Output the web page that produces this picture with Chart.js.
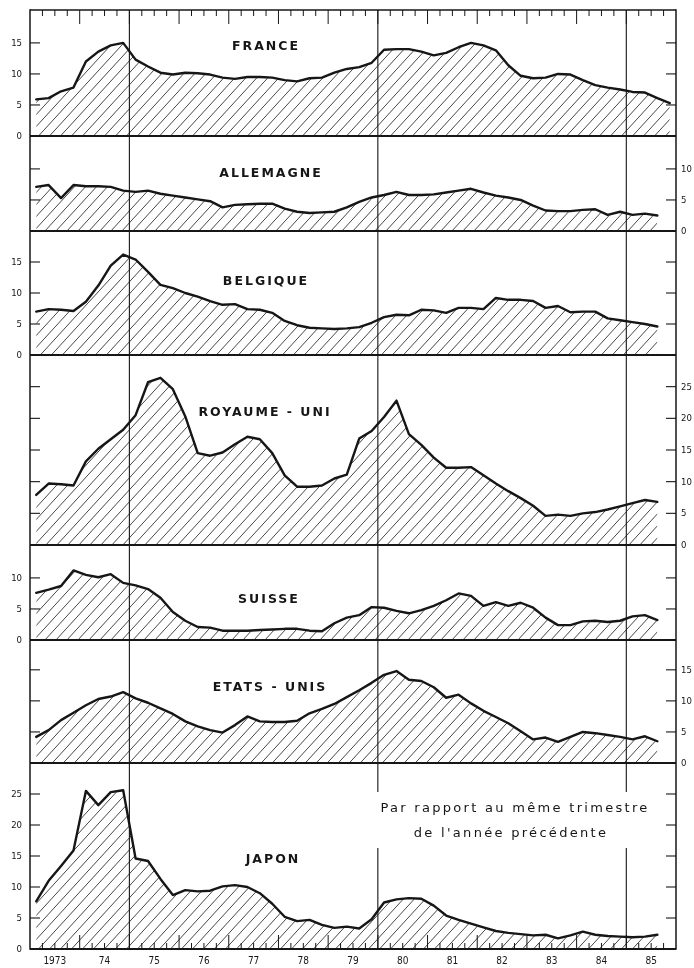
<!DOCTYPE html>
<html>
<head>
<meta charset="utf-8">
<script src="https://cdn.jsdelivr.net/npm/chart.js@4"></script>
<style>
  html, body { margin: 0; padding: 0; background: #fff; }
  #wrap { position: relative; width: 694px; height: 968px; overflow: hidden; background: #fff; }
  #wrap canvas { position: absolute; left: 0; }
</style>
</head>
<body>
<div id="wrap"></div>
<script>
// quarters 1973 T1 .. 1985 T4 (category axis)
const quarters = [];
for (let y = 1973; y <= 1985; y++) {
  for (let q = 1; q <= 4; q++) quarters.push(y + ' T' + q);
}
const yearLabels = ['1973', '74', '75', '76', '77', '78', '79', '80', '81', '82', '83', '84', '85'];
const markYears = [1975, 1980, 1985];

// hausse des prix en % sur un an, trimestriel
const france = [5.9, 6.1, 7.2, 7.8, 12.0, 13.6, 14.6, 15.0, 12.3, 11.2, 10.2, 9.9, 10.2, 10.1, 9.9, 9.4, 9.2, 9.5, 9.5, 9.4,
  9.0, 8.8, 9.3, 9.4, 10.2, 10.8, 11.1, 11.8, 13.9, 14.0, 14.0, 13.6, 13.0, 13.4, 14.3, 15.0, 14.6, 13.8, 11.4, 9.7,
  9.3, 9.4, 10.0, 9.9, 9.0, 8.2, 7.8, 7.5, 7.1, 7.0, 6.1, 5.3];
const allemagne = [7.1, 7.4, 5.3, 7.4, 7.2, 7.2, 7.1, 6.5, 6.3, 6.5, 6.0, 5.7, 5.4, 5.1, 4.8, 3.8, 4.2, 4.3, 4.4, 4.4,
  3.6, 3.1, 2.9, 3.0, 3.1, 3.8, 4.7, 5.4, 5.8, 6.3, 5.8, 5.8, 5.9, 6.2, 6.5, 6.8, 6.2, 5.7, 5.4, 5.0,
  4.1, 3.3, 3.2, 3.2, 3.4, 3.5, 2.6, 3.1, 2.6, 2.8, 2.5];
const belgique = [7.0, 7.4, 7.3, 7.1, 8.6, 11.2, 14.4, 16.2, 15.4, 13.4, 11.3, 10.8, 10.0, 9.4, 8.7, 8.1, 8.2, 7.4, 7.3, 6.8,
  5.5, 4.8, 4.4, 4.3, 4.2, 4.3, 4.5, 5.2, 6.1, 6.5, 6.4, 7.3, 7.2, 6.8, 7.6, 7.6, 7.4, 9.2, 8.9, 8.9,
  8.7, 7.6, 7.9, 6.9, 7.0, 7.0, 5.9, 5.6, 5.3, 5.0, 4.6];
const royaumeUni = [7.9, 9.7, 9.6, 9.4, 13.2, 15.2, 16.7, 18.2, 20.5, 25.7, 26.4, 24.6, 20.3, 14.5, 14.1, 14.6, 15.9, 17.1, 16.7, 14.5,
  11.0, 9.2, 9.2, 9.4, 10.5, 11.1, 16.8, 18.0, 20.2, 22.8, 17.5, 15.8, 13.8, 12.2, 12.2, 12.3, 11.0, 9.7, 8.5, 7.4,
  6.2, 4.6, 4.8, 4.6, 5.0, 5.2, 5.6, 6.1, 6.6, 7.1, 6.8];
const suisse = [7.6, 8.1, 8.7, 11.2, 10.5, 10.1, 10.6, 9.2, 8.8, 8.2, 6.8, 4.5, 3.1, 2.1, 2.0, 1.5, 1.5, 1.5, 1.6, 1.7,
  1.8, 1.8, 1.5, 1.4, 2.7, 3.6, 4.0, 5.3, 5.2, 4.7, 4.3, 4.8, 5.5, 6.4, 7.5, 7.1, 5.5, 6.1, 5.5, 6.0,
  5.2, 3.6, 2.4, 2.4, 3.0, 3.1, 2.9, 3.1, 3.8, 4.0, 3.2];
const etatsUnis = [4.2, 5.3, 6.9, 8.1, 9.3, 10.3, 10.7, 11.4, 10.4, 9.7, 8.8, 7.9, 6.7, 5.9, 5.3, 4.9, 6.1, 7.5, 6.7, 6.6,
  6.6, 6.8, 8.0, 8.7, 9.5, 10.6, 11.7, 12.9, 14.2, 14.8, 13.4, 13.2, 12.2, 10.5, 11.0, 9.6, 8.4, 7.4, 6.4, 5.1,
  3.8, 4.1, 3.4, 4.2, 5.0, 4.8, 4.5, 4.2, 3.8, 4.3, 3.5];
const japon = [7.7, 11.0, 13.4, 15.9, 25.5, 23.2, 25.3, 25.6, 14.6, 14.2, 11.3, 8.7, 9.5, 9.3, 9.4, 10.1, 10.3, 10.0, 9.0, 7.3,
  5.2, 4.5, 4.7, 3.9, 3.4, 3.6, 3.3, 4.8, 7.5, 8.0, 8.2, 8.1, 7.0, 5.4, 4.7, 4.1, 3.5, 2.9, 2.6, 2.4,
  2.2, 2.3, 1.7, 2.2, 2.8, 2.3, 2.1, 2.0, 1.9, 2.0, 2.3];

const note = ['Par rapport au même trimestre', "de l'année précédente"];

// layout of the stacked panels (page pixels)
const panels = [
  { name: 'FRANCE', data: france, top: 10, bottom: 136, max: 20.3, side: 'left', ticks: [5, 10, 15], tx: 266, ty: 47 },
  { name: 'ALLEMAGNE', data: allemagne, top: 136, bottom: 231, max: 15.3, side: 'right', ticks: [5, 10], tx: 271, ty: 174 },
  { name: 'BELGIQUE', data: belgique, top: 231, bottom: 355, max: 20, side: 'left', ticks: [5, 10, 15], tx: 266, ty: 282 },
  { name: 'ROYAUME - UNI', data: royaumeUni, top: 355, bottom: 545, max: 30, side: 'right', ticks: [5, 10, 15, 20, 25], tx: 265, ty: 413 },
  { name: 'SUISSE', data: suisse, top: 545, bottom: 640, max: 15.3, side: 'left', ticks: [5, 10], tx: 269, ty: 600 },
  { name: 'ETATS - UNIS', data: etatsUnis, top: 640, bottom: 763, max: 19.8, side: 'right', ticks: [5, 10, 15], tx: 270, ty: 688 },
  { name: 'JAPON', data: japon, top: 763, bottom: 949, max: 30, side: 'left', ticks: [5, 10, 15, 20, 25], tx: 273, ty: 860 }
];

const INK = '#161616';
const PAD_TOP = 12;
const numFont = '9.5px "DejaVu Sans Condensed", "DejaVu Sans", sans-serif';

function makeHatch() {
  const c = document.createElement('canvas');
  c.width = 11;
  c.height = 12;
  const g = c.getContext('2d');
  g.strokeStyle = '#333';
  g.lineWidth = 0.9;
  g.beginPath();
  g.moveTo(-1, 12 + 12 / 11);
  g.lineTo(12, -12 / 11);
  g.stroke();
  return c;
}
const hatchTile = makeHatch();

function line(ctx, x1, y1, x2, y2) {
  ctx.beginPath();
  ctx.moveTo(x1, y1);
  ctx.lineTo(x2, y2);
  ctx.stroke();
}

function decor(p, idx) {
  const first = idx === 0;
  const last = idx === panels.length - 1;
  return {
    id: 'decor',
    afterDatasetsDraw(chart) {
      const ctx = chart.ctx;
      const xs = chart.scales.x;
      const ys = chart.scales.y;
      const { left, right, top, bottom } = chart.chartArea;
      const off = p.top - PAD_TOP;
      ctx.save();
      ctx.strokeStyle = INK;
      ctx.fillStyle = INK;

      // year separators
      ctx.lineWidth = 1.1;
      markYears.forEach(y => {
        const x = xs.getPixelForValue((y - 1973) * 4 - 0.5);
        line(ctx, x, top, x, bottom);
      });

      // frame
      ctx.lineWidth = 1.5;
      line(ctx, left, top - (first ? 0.7 : 0), left, bottom + (last ? 0.7 : 0));
      line(ctx, right, top - (first ? 0.7 : 0), right, bottom + (last ? 0.7 : 0));
      if (first) line(ctx, left, top, right, top);
      ctx.lineWidth = 2;
      line(ctx, left, bottom, right, bottom);

      // quarter ticks on top of first / bottom of last panel
      ctx.lineWidth = 1;
      for (let k = 1; k < quarters.length; k++) {
        const x = xs.getPixelForValue(k - 0.5);
        const len = k % 4 === 0 ? 14 : 6;
        if (first) line(ctx, x, top, x, top + len);
        if (last) line(ctx, x, bottom, x, bottom - len);
      }

      // y ticks, inward on both sides
      ctx.lineWidth = 1.1;
      p.ticks.forEach(v => {
        const y = ys.getPixelForValue(v);
        line(ctx, left, y, left + 10, y);
        line(ctx, right - 10, y, right, y);
      });

      // tick labels
      ctx.font = numFont;
      ctx.textBaseline = 'middle';
      ctx.textAlign = p.side === 'left' ? 'right' : 'left';
      const lx = p.side === 'left' ? left - 8 : right + 5;
      [0].concat(p.ticks).forEach(v => {
        ctx.fillText(String(v), lx, ys.getPixelForValue(v) + 0.5);
      });

      // panel title
      ctx.font = 'bold 12.5px "DejaVu Sans", sans-serif';
      ctx.letterSpacing = '2px';
      ctx.textAlign = 'center';
      ctx.fillText(p.name, p.tx, p.ty - off);

      if (last) {
        // year labels
        ctx.letterSpacing = '0px';
        ctx.font = '10px "DejaVu Sans Condensed", "DejaVu Sans", sans-serif';
        ctx.textBaseline = 'top';
        yearLabels.forEach((t, j) => {
          ctx.fillText(t, xs.getPixelForValue(j * 4 + 1.5), bottom + 7);
        });
        // note box
        ctx.fillStyle = '#fff';
        ctx.fillRect(368, 792 - off, 287, 56);
        ctx.fillStyle = INK;
        ctx.font = '13px "DejaVu Sans", sans-serif';
        ctx.letterSpacing = '2.3px';
        ctx.textBaseline = 'middle';
        ctx.fillText(note[0], 515, 809 - off);
        ctx.fillText(note[1], 511, 834 - off);
      }
      ctx.restore();
    }
  };
}

const wrap = document.getElementById('wrap');
panels.forEach((p, idx) => {
  const padBottom = idx === panels.length - 1 ? 19 : 12;
  const canvas = document.createElement('canvas');
  canvas.width = 694;
  canvas.height = p.bottom - p.top + PAD_TOP + padBottom;
  canvas.style.top = (p.top - PAD_TOP) + 'px';
  wrap.appendChild(canvas);
  const ctx = canvas.getContext('2d');
  const hatch = ctx.createPattern(hatchTile, 'repeat');

  new Chart(ctx, {
    type: 'line',
    data: {
      labels: quarters,
      datasets: [{
        label: p.name,
        data: p.data,
        borderColor: INK,
        borderWidth: 2.4,
        borderJoinStyle: 'round',
        borderCapStyle: 'round',
        backgroundColor: hatch,
        fill: 'origin',
        pointRadius: 0,
        tension: 0
      }]
    },
    options: {
      responsive: false,
      animation: false,
      layout: { padding: { top: PAD_TOP, bottom: padBottom, left: 30, right: 18 } },
      plugins: { legend: { display: false }, tooltip: { enabled: false } },
      scales: {
        x: { type: 'category', offset: true, display: false },
        y: { min: 0, max: p.max, display: false }
      }
    },
    plugins: [decor(p, idx)]
  });
});
</script>
</body>
</html>
